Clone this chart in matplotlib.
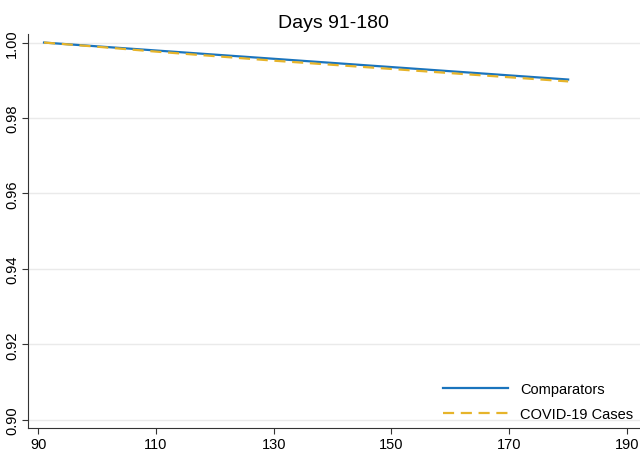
import matplotlib
matplotlib.use("Agg")
import matplotlib.pyplot as plt

# ---- data ----
days = [91, 100, 110, 120, 130, 140, 150, 160, 170, 180]
comparators = [1.0, 0.9990, 0.9979, 0.9968, 0.9957, 0.9946, 0.9935, 0.9924, 0.9913, 0.9902]
covid_cases = [1.0, 0.9989, 0.9976, 0.9964, 0.9952, 0.9941, 0.9930, 0.9919, 0.9908, 0.9897]
x_ticks = [90, 110, 130, 150, 170, 190]
y_ticks = [0.90, 0.92, 0.94, 0.96, 0.98, 1.00]

plt.rcParams["font.family"] = ["Liberation Sans", "DejaVu Sans"]

fig = plt.figure(figsize=(6.4, 4.6), dpi=100)
ax = fig.add_axes([0.043, 0.067, 0.957, 0.858])

ax.plot(days, comparators, color="#1a74bd", lw=1.6, label="Comparators")
ax.plot(days, covid_cases, color="#e6b42a", lw=1.6, ls=(0, (5, 3)), label="COVID-19 Cases")

ax.set_xlim(88.2, 192.2)
ax.set_ylim(0.8978, 1.0024)
ax.set_xticks(x_ticks)
ax.set_yticks(y_ticks)
ax.set_yticklabels([f"{v:.2f}" for v in y_ticks], rotation=90, va="center")
ax.tick_params(labelsize=10.5, length=4, color="#333333", pad=2)
ax.yaxis.grid(True, color="#eaeaea", lw=1)
ax.set_axisbelow(True)
for s in ("top", "right"):
    ax.spines[s].set_visible(False)
for s in ("left", "bottom"):
    ax.spines[s].set_color("#333333")

ax.set_title("Days 91-180", fontsize=14, pad=5)
ax.legend(loc="lower right", frameon=False, handlelength=4.5, fontsize=10.5,
          bbox_to_anchor=(1.01, -0.015), labelspacing=0.75, handletextpad=0.8)

fig.savefig("out.png", dpi=100)
